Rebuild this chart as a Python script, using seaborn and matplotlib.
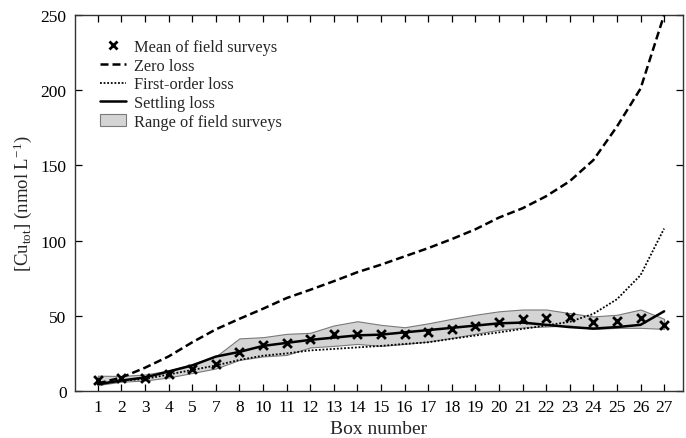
import numpy as np
import pandas as pd
import matplotlib
matplotlib.use("Agg")
import matplotlib.pyplot as plt
import seaborn as sns
from matplotlib.patches import Patch
from matplotlib.lines import Line2D

# Box numbers along the estuary (boxes 6 and 9 not sampled)
boxes = [1, 2, 3, 4, 5, 7, 8, 10, 11, 12, 13, 14, 15, 16, 17, 18, 19, 20, 21, 22, 23, 24, 25, 26, 27]

# Mean of field surveys
survey_mean = [7.6, 8.7, 8.9, 11.6, 14.4, 18.2, 25.8, 30.7, 32.0, 34.7, 37.8, 37.8, 38.0, 38.0,
               39.5, 41.3, 43.3, 45.8, 47.6, 48.7, 49.0, 46.2, 46.7, 48.4, 44.0]
# Range of field surveys
survey_low = [4.0, 6.2, 7.0, 9.0, 12.0, 15.0, 20.7, 23.0, 24.0, 29.0, 30.0, 31.3, 30.0, 31.3,
              32.9, 35.3, 38.0, 40.7, 42.2, 42.9, 43.6, 41.3, 42.0, 42.0, 41.3]
survey_high = [10.2, 10.0, 11.0, 13.6, 18.0, 23.0, 35.0, 35.8, 38.0, 38.7, 43.6, 46.4, 44.0, 42.4,
               45.0, 48.0, 50.7, 53.0, 54.2, 54.2, 51.8, 49.6, 50.7, 54.2, 48.0]
# Model runs
zero_loss = [5.0, 9.0, 15.5, 23.0, 32.4, 41.0, 48.0, 54.7, 61.8, 67.3, 73.0, 79.0, 84.0, 89.5,
             95.0, 101.0, 107.5, 115.3, 121.5, 129.5, 139.5, 153.5, 175.8, 201.0, 250.0]
first_order_loss = [5.0, 7.0, 8.0, 11.0, 14.0, 17.0, 20.7, 23.5, 25.0, 27.0, 28.0, 29.0, 30.0, 31.3,
                    32.4, 34.7, 36.9, 39.0, 41.3, 43.6, 46.0, 51.3, 61.0, 77.0, 108.0]
settling_loss = [4.5, 7.0, 9.0, 13.0, 17.0, 22.9, 26.0, 30.0, 32.0, 34.0, 35.5, 37.0, 37.5, 39.0,
                 40.5, 42.0, 43.5, 45.0, 45.5, 44.0, 42.5, 41.5, 42.5, 44.0, 53.0]

pos = np.arange(len(boxes))
df = pd.DataFrame({
    "pos": pos,
    "mean": survey_mean,
    "low": survey_low,
    "high": survey_high,
    "zero": zero_loss,
    "first": first_order_loss,
    "settling": settling_loss,
})

sns.set_theme(style="ticks")
plt.rcParams["font.family"] = ["Liberation Serif", "DejaVu Serif"]
plt.rcParams["mathtext.fontset"] = "custom"
plt.rcParams["mathtext.rm"] = "Liberation Serif"
plt.rcParams["mathtext.it"] = "Liberation Serif:italic"

fig = plt.figure(figsize=(6.86, 4.39), dpi=100)
ax = fig.add_axes([0.1093, 0.107, 0.8863, 0.8566])

ax.fill_between(df["pos"], df["low"], df["high"], facecolor="#d4d4d4",
                edgecolor="#7a7a7a", linewidth=0.8, zorder=1)
sns.lineplot(data=df, x="pos", y="zero", ax=ax, color="black", linewidth=1.8,
             linestyle=(0, (3.2, 1.6)), zorder=3)
sns.lineplot(data=df, x="pos", y="first", ax=ax, color="black", linewidth=1.3,
             linestyle=(0, (1, 1)), zorder=3)
sns.lineplot(data=df, x="pos", y="settling", ax=ax, color="black", linewidth=1.8, zorder=4)
sns.scatterplot(data=df, x="pos", y="mean", ax=ax, marker="x", color="black", s=40,
                linewidth=2.0, zorder=5)

ax.set_xlim(-0.97, 24.8)
ax.set_ylim(0, 250)
ax.set_xticks(pos)
ax.set_xticklabels([str(b) for b in boxes])
ax.set_yticks([0, 50, 100, 150, 200, 250])
ax.tick_params(axis="both", direction="in", length=5, width=0.9, labelsize=12.5,
               top=True, right=True, colors="black", pad=6)
for s in ax.spines.values():
    s.set_visible(True)
    s.set_linewidth(1.0)
    s.set_color("#333333")

ax.set_xlabel("Box number", fontsize=14, labelpad=3)
ax.set_ylabel(r"[Cu$_{\mathrm{tot}}$] (nmol L$^{\mathrm{-1}}$)", fontsize=13.5, labelpad=5)

handles = [
    Line2D([], [], marker="x", color="black", linestyle="none", markersize=6, markeredgewidth=2.0),
    Line2D([], [], color="black", linewidth=1.8, linestyle=(0, (3.2, 1.6))),
    Line2D([], [], color="black", linewidth=1.3, linestyle=(0, (1, 1))),
    Line2D([], [], color="black", linewidth=1.8),
    Patch(facecolor="#d4d4d4", edgecolor="#7a7a7a", linewidth=0.8),
]
labels = ["Mean of field surveys", "Zero loss", "First-order loss", "Settling loss",
          "Range of field surveys"]
ax.legend(handles, labels, loc="upper left", bbox_to_anchor=(0.025, 0.962), frameon=False,
          fontsize=11.8, handlelength=1.6, handletextpad=0.5, labelspacing=0.16,
          borderaxespad=0.2)

fig.savefig("out.png", dpi=100)
